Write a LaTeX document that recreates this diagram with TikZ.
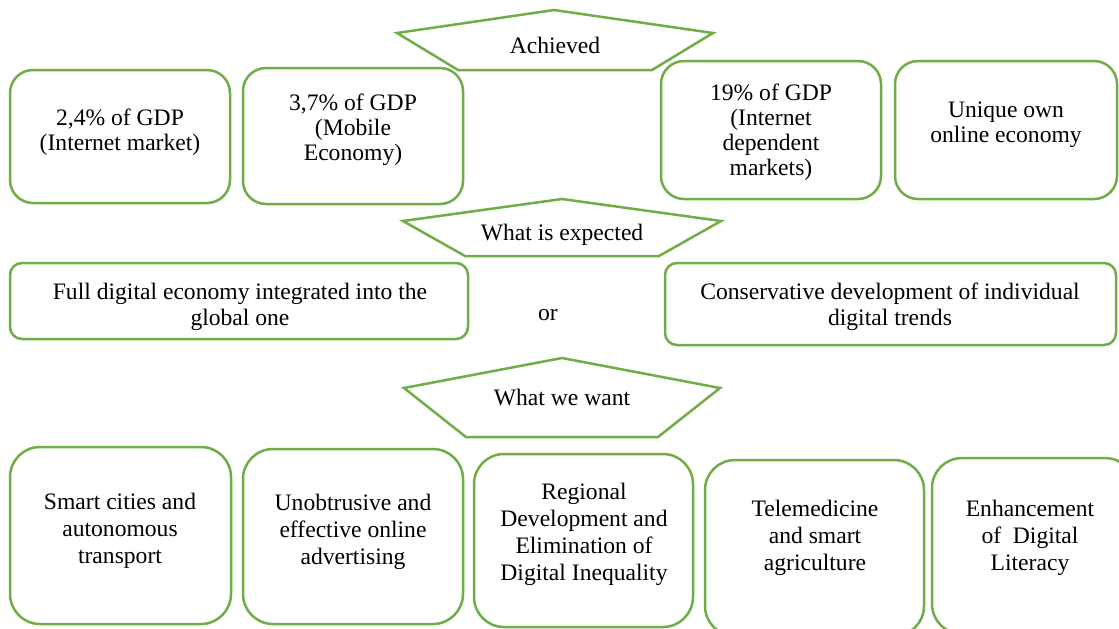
\documentclass[tikz,border=0pt]{standalone}
\usepackage{fontspec}
\setmainfont{Liberation Serif}
\definecolor{grn}{RGB}{112,173,71}
\tikzset{
  boxbase/.style={draw=grn, line width=1.25pt, fill=white, inner sep=0pt},
  topbox/.style={boxbase, rounded corners=11.5pt},
  midbox/.style={boxbase, rounded corners=6pt},
  lowbox/.style={boxbase, rounded corners=15pt},
  pent/.style={draw=grn, line width=1.25pt, fill=white, line join=miter},
  ttxt/.style={align=center, inner sep=0pt, font=\fontsize{11.8}{12.5}\selectfont},
  mtxt/.style={align=center, inner sep=0pt, font=\fontsize{11.8}{13}\selectfont},
  ltxt/.style={align=center, inner sep=0pt, font=\fontsize{11.8}{13.5}\selectfont},
}
\begin{document}
\begin{tikzpicture}[x=0.5pt,y=-0.5pt]
\useasboundingbox (0,0) rectangle (1119,628);
\clip (0,0) rectangle (1119,628);
\fill[white] (0,0) rectangle (1119,628);

% top row
\node[topbox, minimum width=110pt, minimum height=66.5pt] (a1) at (120,136.5) {};
\node[topbox, minimum width=110pt, minimum height=68pt] (a2) at (353,136) {};
\node[topbox, minimum width=110pt, minimum height=69pt] (a3) at (771,130) {};
\node[topbox, minimum width=111pt, minimum height=69pt] (a4) at (1006,130) {};
\node[ttxt] (ta1) at (120,132.5) {2,4\% of GDP\\(Internet market)};
\node[ttxt] (ta2) at (353,129.5) {3,7\% of GDP\\(Mobile\\Economy)};
\node[ttxt] (ta3) at (771,132.5) {19\% of GDP\\(Internet\\dependent\\markets)};
\node[ttxt] (ta4) at (1006,124.5) {Unique own\\online economy};

% pentagon 1
\draw[pent] (554,10) -- (713,33) -- (652,70) -- (458,70) -- (397,33) -- cycle;
\node[ttxt] (p1) at (555,45.5) {Achieved};

% pentagon 2
\draw[pent] (562,199) -- (721,221) -- (659,256) -- (465,256) -- (403,221) -- cycle;
\node[ttxt] (p2) at (562,235) {What is expected};

% middle row
\node[midbox, minimum width=229pt, minimum height=38pt] (b1) at (239,301) {};
\node[midbox, minimum width=225.5pt, minimum height=41pt] (b2) at (890.5,304) {};
\node[mtxt] (tb1) at (240,306.5) {Full digital economy integrated into the\\global one};
\node[mtxt] (tb2) at (890,306.5) {Conservative development of individual\\digital trends};
\node[mtxt] (or) at (548,315) {or};

% pentagon 3
\draw[pent] (562,358) -- (720,388) -- (658,437) -- (466,437) -- (404,388) -- cycle;
\node[ttxt] (p3) at (562,397.5) {What we want};

% bottom row
\node[lowbox, minimum width=110.5pt, minimum height=88.5pt] (c1) at (120.5,535.5) {};
\node[lowbox, minimum width=110pt, minimum height=87.5pt] (c2) at (353,536.5) {};
\node[lowbox, minimum width=109.5pt, minimum height=86.5pt] (c3) at (583.5,540.5) {};
\node[lowbox, minimum width=109.5pt, minimum height=88pt] (c4) at (814.5,548) {};
\node[lowbox, minimum width=101.5pt, minimum height=88pt] (c5) at (1033.5,546) {};
\node[ltxt] (tc1) at (120,531) {Smart cities and\\autonomous\\transport};
\node[ltxt] (tc2) at (353,532) {Unobtrusive and\\effective online\\advertising};
\node[ltxt] (tc3) at (584,534.5) {Regional\\Development and\\Elimination of\\Digital Inequality};
\node[ltxt] (tc4) at (815,538) {Telemedicine\\and smart\\agriculture};
\node[ltxt] (tc5) at (1030,538) {Enhancement\\of\ \ Digital\\Literacy};
\end{tikzpicture}
\end{document}
